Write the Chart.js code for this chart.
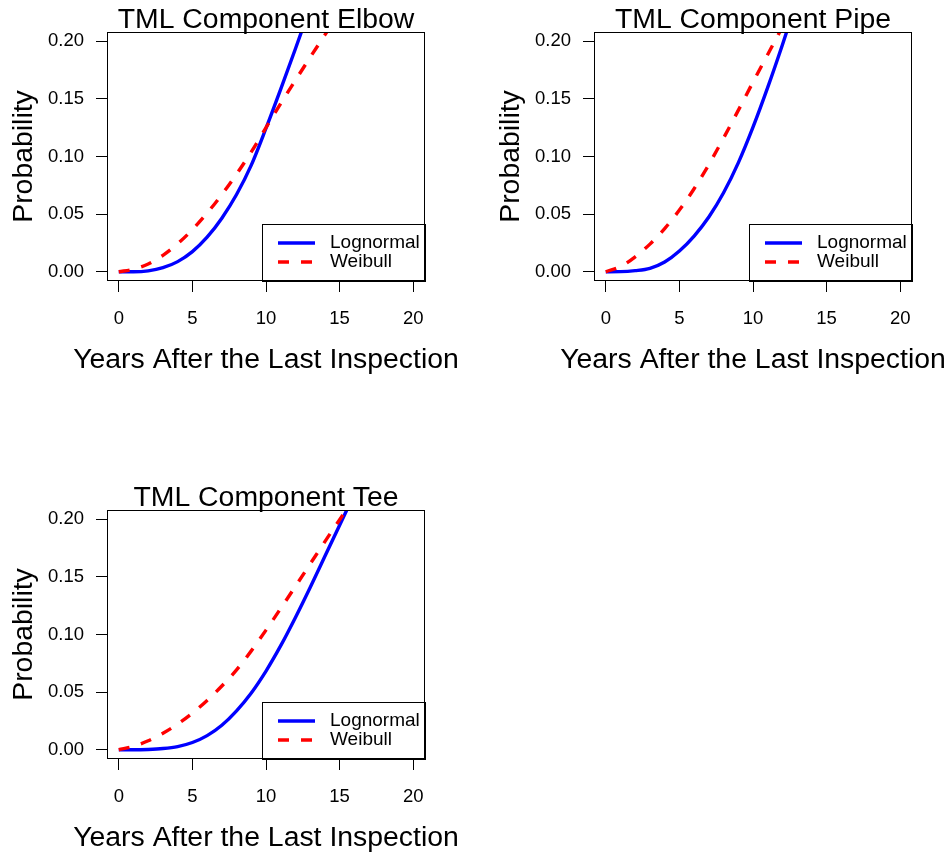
<!DOCTYPE html>
<html><head><meta charset="utf-8">
<script src="https://cdn.jsdelivr.net/npm/chart.js@4/dist/chart.umd.min.js"></script>
<style>
html,body{margin:0;padding:0;background:#fff;width:951px;height:854px;overflow:hidden}
canvas{position:absolute}
</style></head><body>
<canvas id="c1" width="464" height="427" style="left:0;top:0"></canvas>
<canvas id="c2" width="464" height="427" style="left:487px;top:0"></canvas>
<canvas id="c3" width="464" height="427" style="left:0;top:478px"></canvas>
<script>
// ---- data (probability at each year) ----
const years = [0,1,2,3,4,5,6,7,8,9,10,11,12,13,14,15,16];
const elbowLognormal = [0, 0.0000, 0.0008, 0.0035, 0.0088, 0.0175, 0.030, 0.0465, 0.067, 0.0925, 0.1245, 0.1585, 0.1935, 0.2295];
const elbowWeibull   = [0, 0.0022, 0.0068, 0.0143, 0.0243, 0.0366, 0.0509, 0.067, 0.0847, 0.1040, 0.1250, 0.1460, 0.1662, 0.1860, 0.2055, 0.2245];
const pipeLognormal  = [0, 0.0001, 0.0010, 0.0030, 0.0085, 0.018, 0.031, 0.0475, 0.0685, 0.0945, 0.1255, 0.160, 0.197, 0.236];
const pipeWeibull    = [0, 0.0045, 0.013, 0.024, 0.0375, 0.0535, 0.072, 0.093, 0.116, 0.140, 0.1645, 0.1885, 0.2125, 0.2365];
const teeLognormal   = [0, 0.0000, 0.0003, 0.0011, 0.0028, 0.0063, 0.0123, 0.0213, 0.0338, 0.0493, 0.0683, 0.0903, 0.1148, 0.1408, 0.1678, 0.1948, 0.2218];
const teeWeibull     = [0, 0.0030, 0.0078, 0.0143, 0.0223, 0.0318, 0.0428, 0.0553, 0.0693, 0.0858, 0.1038, 0.1226, 0.1418, 0.1612, 0.1806, 0.1996, 0.2186];
const titles = ['TML Component Elbow', 'TML Component Pipe', 'TML Component Tee'];
const seriesNames = ['Lognormal', 'Weibull'];
const xTicks = [0, 5, 10, 15, 20];
const xTickLabels = ['0', '5', '10', '15', '20'];
const yTicks = [0, 0.05, 0.10, 0.15, 0.20];
const yTickLabels = ['0.00', '0.05', '0.10', '0.15', '0.20'];
const xAxisTitle = 'Years After the Last Inspection';
const yAxisTitle = 'Probability';

const FONT = '"Liberation Sans", Arial, Helvetica, sans-serif';

function pts(arr) { return arr.map((v, i) => ({ x: years[i], y: v })); }

const boxPlugin = {
  id: 'boxPlugin',
  afterDatasetsDraw(chart) {
    const { ctx, chartArea: a } = chart;
    ctx.save();
    // inset legend (bottom-right)
    const w = 163, h = 57;
    const L = Math.round(a.right - w), T = Math.round(a.bottom - h);
    ctx.fillStyle = '#fff';
    ctx.fillRect(L, T, w, h);
    ctx.strokeStyle = '#000';
    ctx.lineWidth = 1;
    ctx.strokeRect(L + 0.5, T + 0.5, w, h);
    const rows = [T + 19, T + 38];
    ctx.font = '19px ' + FONT;
    ctx.textBaseline = 'middle';
    ctx.textAlign = 'left';
    chart.data.datasets.forEach((ds, i) => {
      ctx.save();
      ctx.strokeStyle = ds.borderColor;
      ctx.lineWidth = ds.borderWidth;
      ctx.setLineDash(ds.borderDash || []);
      ctx.beginPath();
      ctx.moveTo(L + 16, rows[i]);
      ctx.lineTo(L + 53, rows[i]);
      ctx.stroke();
      ctx.restore();
      ctx.fillStyle = '#000';
      ctx.fillText(ds.label, L + 68, rows[i]);
    });
    ctx.restore();
  },
  afterDraw(chart) {
    const { ctx, chartArea: a } = chart;
    ctx.save();
    ctx.strokeStyle = '#000';
    ctx.lineWidth = 1;
    ctx.strokeRect(Math.round(a.left) + 0.5, Math.round(a.top) + 0.5,
                   Math.round(a.right - a.left) - 1, Math.round(a.bottom - a.top) - 1);
    // x axis title (drawn here so it is not squeezed to the plot width)
    ctx.fillStyle = '#000';
    ctx.font = '28.4px ' + FONT;
    ctx.textAlign = 'center';
    ctx.textBaseline = 'alphabetic';
    ctx.fillText(xAxisTitle, (a.left + a.right) / 2, a.bottom + 87);
    ctx.restore();
  }
};

function makeChart(id, title, logn, weib) {
  return new Chart(document.getElementById(id), {
    type: 'line',
    data: {
      datasets: [
        { label: seriesNames[0], data: pts(logn), borderColor: '#0000FF', borderWidth: 3.4,
          pointRadius: 0, cubicInterpolationMode: 'monotone', fill: false, clip: 0, order: 1 },
        { label: seriesNames[1], data: pts(weib), borderColor: '#FF0000', borderWidth: 3.4,
          borderDash: [11, 12], pointRadius: 0, cubicInterpolationMode: 'monotone', fill: false, clip: 0, order: 0 }
      ]
    },
    options: {
      responsive: false,
      animation: false,
      devicePixelRatio: 1,
      layout: { padding: { top: 0, left: 0, right: 39, bottom: 0 } },
      plugins: {
        legend: { display: false },
        tooltip: { enabled: false },
        title: {
          display: true, text: title, fullSize: false, color: '#000',
          font: { family: FONT, size: 28.4, weight: 'normal', lineHeight: 1 },
          padding: { top: 6, bottom: -2.4 }
        }
      },
      scales: {
        x: {
          type: 'linear', min: -0.8, max: 20.8,
          afterBuildTicks: s => { s.ticks = xTicks.map(v => ({ value: v })); },
          afterFit: s => { s.height = 146; },
          ticks: { color: '#000', font: { family: FONT, size: 18.5 }, padding: 16,
                   maxRotation: 0, autoSkip: false,
                   callback: (v, i) => xTickLabels[i] },
          grid: { display: true, drawOnChartArea: false, drawTicks: true, tickLength: 11,
                  color: '#000', lineWidth: 1 },
          border: { display: false },
          title: { display: false }
        },
        y: {
          type: 'linear', min: -0.008, max: 0.208,
          afterBuildTicks: s => { s.ticks = yTicks.map(v => ({ value: v })); },
          afterFit: s => { s.width = 107; },
          ticks: { color: '#000', font: { family: FONT, size: 18.5 }, padding: 12,
                   autoSkip: false, callback: (v, i) => yTickLabels[i] },
          grid: { display: true, drawOnChartArea: false, drawTicks: true, tickLength: 11,
                  color: '#000', lineWidth: 1 },
          border: { display: false },
          title: { display: true, text: yAxisTitle, color: '#000',
                   font: { family: FONT, size: 28.4 }, padding: { top: 7, bottom: 0 } }
        }
      }
    },
    plugins: [boxPlugin]
  });
}

makeChart('c1', titles[0], elbowLognormal, elbowWeibull);
makeChart('c2', titles[1], pipeLognormal, pipeWeibull);
makeChart('c3', titles[2], teeLognormal, teeWeibull);
</script>
</body></html>
